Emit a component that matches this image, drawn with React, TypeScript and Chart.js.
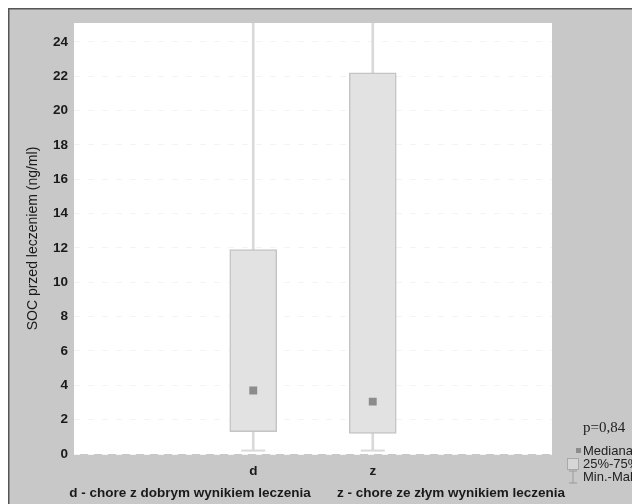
import React, { useEffect, useRef } from "react";
import { Chart, registerables } from "chart.js";

Chart.register(...registerables);

const categories = ["", "d", "z", ""];
const q1Values = [null, 1.3, 1.2, null];
const q3Values = [null, 11.9, 22.2, null];
const medianValues = [null, 3.7, 3.05, null];
const minValues = [null, 0.2, 0.2, null];
const maxValues = [null, 26, 26, null];
const yTicks = [0, 2, 4, 6, 8, 10, 12, 14, 16, 18, 20, 22, 24];
const yMax = 25.1;
const yTitle = "SOC przed leczeniem (ng/ml)";
const descriptions = [
  "d - chore z dobrym wynikiem leczenia",
  "z - chore ze złym wynikiem leczenia",
];
const pValueText = "p=0,84";
const legendLabels = ["Mediana", "25%-75%", "Min.-Maks"];

const BG = "#c8c8c8";
const WHISKER = "#d9d9d9";

const framePlugin = {
  id: "frame",
  beforeDraw(chart: any) {
    const { ctx, width, height, chartArea } = chart;
    ctx.save();
    ctx.fillStyle = BG;
    ctx.fillRect(0, 0, width, height);
    ctx.fillStyle = "#ffffff";
    ctx.fillRect(chartArea.left, chartArea.top, chartArea.right - chartArea.left, chartArea.bottom - chartArea.top);
    ctx.strokeStyle = "#555555";
    ctx.lineWidth = 1.5;
    ctx.beginPath();
    ctx.moveTo(0.75, height);
    ctx.lineTo(0.75, 0.75);
    ctx.lineTo(width, 0.75);
    ctx.stroke();
    ctx.restore();
  },
  afterDatasetsDraw(chart: any) {
    const { ctx, scales } = chart;
    const x = scales.x;
    const y = scales.y;
    ctx.save();
    ctx.strokeStyle = WHISKER;
    ctx.lineWidth = 2;
    minValues.forEach((v, i) => {
      if (v == null) return;
      const px = x.getPixelForValue(i);
      const py = y.getPixelForValue(v);
      ctx.beginPath();
      ctx.moveTo(px - 12, py);
      ctx.lineTo(px + 12, py);
      ctx.stroke();
    });
    ctx.restore();
  },
  afterDraw(chart: any) {
    const { ctx, chartArea } = chart;
    ctx.save();
    ctx.fillStyle = "#1a1a1a";
    ctx.font = "bold 13.5px 'Liberation Sans', Arial, sans-serif";
    ctx.textAlign = "center";
    ctx.textBaseline = "middle";
    const ty = chartArea.bottom + 39;
    ctx.fillText(descriptions[0], chartArea.left + 116, ty);
    ctx.fillText(descriptions[1], chartArea.left + 377, ty);

    const lx = chartArea.right + 31;
    ctx.textAlign = "left";
    ctx.font = "15px 'Liberation Serif', 'Times New Roman', serif";
    ctx.fillStyle = "#222222";
    ctx.fillText(pValueText, lx, chartArea.top + 405);

    ctx.font = "13px 'Liberation Sans', Arial, sans-serif";
    ctx.fillStyle = "#222222";
    const rows = [chartArea.top + 428, chartArea.top + 441, chartArea.top + 454];
    legendLabels.forEach((t, i) => ctx.fillText(t, lx, rows[i]));
    ctx.fillStyle = "#8c8c8c";
    ctx.fillRect(lx - 7, rows[0] - 3, 5, 5);
    ctx.fillStyle = "#d6d6d6";
    ctx.strokeStyle = "#a8a8a8";
    ctx.lineWidth = 1;
    ctx.fillRect(lx - 16, rows[1] - 6, 12, 12);
    ctx.strokeRect(lx - 15.5, rows[1] - 5.5, 11, 11);
    ctx.strokeStyle = "#9a9a9a";
    ctx.beginPath();
    ctx.moveTo(lx - 10, rows[2] - 6);
    ctx.lineTo(lx - 10, rows[2] + 6);
    ctx.moveTo(lx - 14, rows[2] - 6);
    ctx.lineTo(lx - 6, rows[2] - 6);
    ctx.moveTo(lx - 14, rows[2] + 6);
    ctx.lineTo(lx - 6, rows[2] + 6);
    ctx.stroke();
    ctx.restore();
  },
};

export default function App() {
  const ref = useRef<HTMLCanvasElement | null>(null);

  useEffect(() => {
    if (!ref.current) return;
    const boxData = q1Values.map((v, i) => (v == null ? null : [v, q3Values[i] as number]));
    const whiskerData = minValues.map((v, i) => (v == null ? null : [v, maxValues[i] as number]));
    const chart = new Chart(ref.current, {
      type: "bar",
      data: {
        labels: categories,
        datasets: [
          {
            type: "bar",
            label: "Min.-Maks",
            data: whiskerData as any,
            backgroundColor: WHISKER,
            borderWidth: 0,
            barThickness: 2,
            grouped: false,
            order: 3,
          } as any,
          {
            type: "bar",
            label: "25%-75%",
            data: boxData as any,
            backgroundColor: "#e2e2e2",
            borderColor: "#c4c4c4",
            borderWidth: 1.5,
            borderSkipped: false,
            barThickness: 47,
            grouped: false,
            order: 2,
          } as any,
          {
            type: "line",
            label: "Mediana",
            data: medianValues as any,
            showLine: false,
            pointStyle: "rect",
            pointRadius: 5.6,
            pointBackgroundColor: "#8c8c8c",
            pointBorderWidth: 0,
            order: 1,
          } as any,
        ],
      },
      options: {
        responsive: false,
        animation: false,
        events: [],
        layout: { padding: { top: 15, right: 88, left: 0, bottom: 0 } },
        plugins: {
          legend: { display: false },
          tooltip: { enabled: false },
        },
        scales: {
          x: {
            grid: { display: false, drawTicks: false },
            border: { display: false },
            ticks: {
              color: "#1a1a1a",
              padding: 9,
              font: { family: "'Liberation Sans', Arial, sans-serif", size: 13.5, weight: "bold" },
              autoSkip: false,
              maxRotation: 0,
            },
            afterFit: (s: any) => {
              s.height = 50;
            },
          },
          y: {
            min: 0,
            max: yMax,
            grid: { color: "#f4f4f4", drawTicks: false, lineWidth: 1 },
            border: { display: false, dash: [6, 8] },
            ticks: {
              color: "#1a1a1a",
              padding: 6,
              font: { family: "'Liberation Sans', Arial, sans-serif", size: 13.5, weight: "bold" },
            },
            afterBuildTicks: (s: any) => {
              s.ticks = yTicks.map((v) => ({ value: v }));
            },
            title: {
              display: true,
              text: yTitle,
              color: "#1a1a1a",
              font: { family: "'Liberation Sans', Arial, sans-serif", size: 14 },
              padding: { top: 17, bottom: 0 },
            },
            afterFit: (s: any) => {
              s.width = 66;
            },
          },
        },
      },
      plugins: [framePlugin],
    });
    return () => chart.destroy();
  }, []);

  return <canvas ref={ref} width={632} height={496} style={{ display: "block" }} />;
}
